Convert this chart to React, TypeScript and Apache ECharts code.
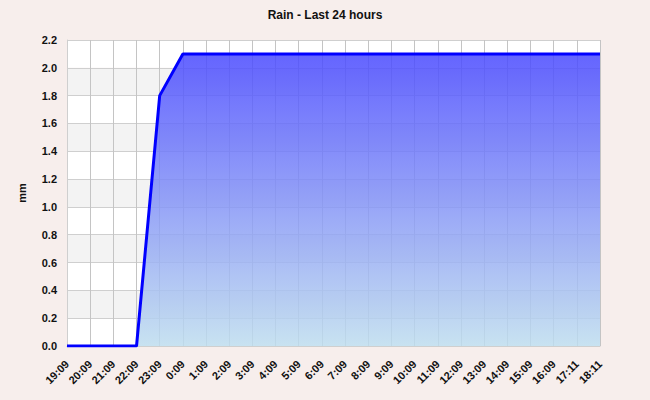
import React, { useEffect, useRef } from "react";
import * as echarts from "echarts";

const categories = [
  "19:09", "20:09", "21:09", "22:09", "23:09", "0:09", "1:09", "2:09",
  "3:09", "4:09", "5:09", "6:09", "7:09", "8:09", "9:09", "10:09",
  "11:09", "12:09", "13:09", "14:09", "15:09", "16:09", "17:11", "18:11",
];
const rainValues = [
  0, 0, 0, 0, 1.8, 2.1, 2.1, 2.1, 2.1, 2.1, 2.1, 2.1,
  2.1, 2.1, 2.1, 2.1, 2.1, 2.1, 2.1, 2.1, 2.1, 2.1, 2.1, 2.1,
];
const titleText = "Rain - Last 24 hours";
const yAxisName = "mm";

export default function App() {
  const ref = useRef<HTMLDivElement>(null);
  useEffect(() => {
    if (!ref.current) return;
    const chart = echarts.init(ref.current, undefined, { renderer: "svg" });
    const font = "Arial, 'Liberation Sans', sans-serif";
    chart.setOption({
      animation: false,
      backgroundColor: "#f7eeec",
      title: {
        text: titleText,
        left: "center",
        top: 4,
        textStyle: { fontSize: 12, fontWeight: "bold", color: "#111", fontFamily: font },
      },
      grid: { left: 67, right: 50, top: 40, bottom: 54, containLabel: false },
      xAxis: {
        type: "category",
        data: categories,
        boundaryGap: false,
        axisLine: { show: true, lineStyle: { color: "#cfcfcf", width: 1 } },
        axisTick: { show: false },
        axisLabel: {
          rotate: 45,
          fontSize: 11,
          fontWeight: "bold",
          color: "#111",
          fontFamily: font,
          interval: 0,
          margin: 16,
        },
        splitLine: { show: true, lineStyle: { color: "#c4c4c4", width: 1 } },
      },
      yAxis: {
        type: "value",
        min: 0,
        max: 2.2,
        interval: 0.2,
        name: yAxisName,
        nameLocation: "middle",
        nameGap: 40,
        nameTextStyle: { fontSize: 11, fontWeight: "bold", color: "#111", fontFamily: font },
        axisLine: { show: true, lineStyle: { color: "#cfcfcf" } },
        axisTick: { show: false },
        axisLabel: {
          fontSize: 11,
          fontWeight: "bold",
          color: "#111",
          fontFamily: font,
          margin: 10,
          formatter: (v: number) => v.toFixed(1),
        },
        splitLine: { show: true, lineStyle: { color: "#cfcfcf", width: 1 } },
        splitArea: { show: true, areaStyle: { color: ["#ffffff", "#f3f3f3"] } },
      },
      series: [
        {
          type: "line",
          data: rainValues,
          symbol: "none",
          z: 1,
          lineStyle: { color: "#0000ff", width: 3 },
          areaStyle: {
            opacity: 1,
            color: new echarts.graphic.LinearGradient(0, 0, 0, 1, [
              { offset: 0, color: "rgba(73,73,255,0.85)" },
              { offset: 1, color: "rgba(190,221,238,0.85)" },
            ]),
          },
        },
      ],
    });
    return () => chart.dispose();
  }, []);
  return <div ref={ref} style={{ width: 650, height: 400, position: "absolute", left: 0, top: 0 }} />;
}
